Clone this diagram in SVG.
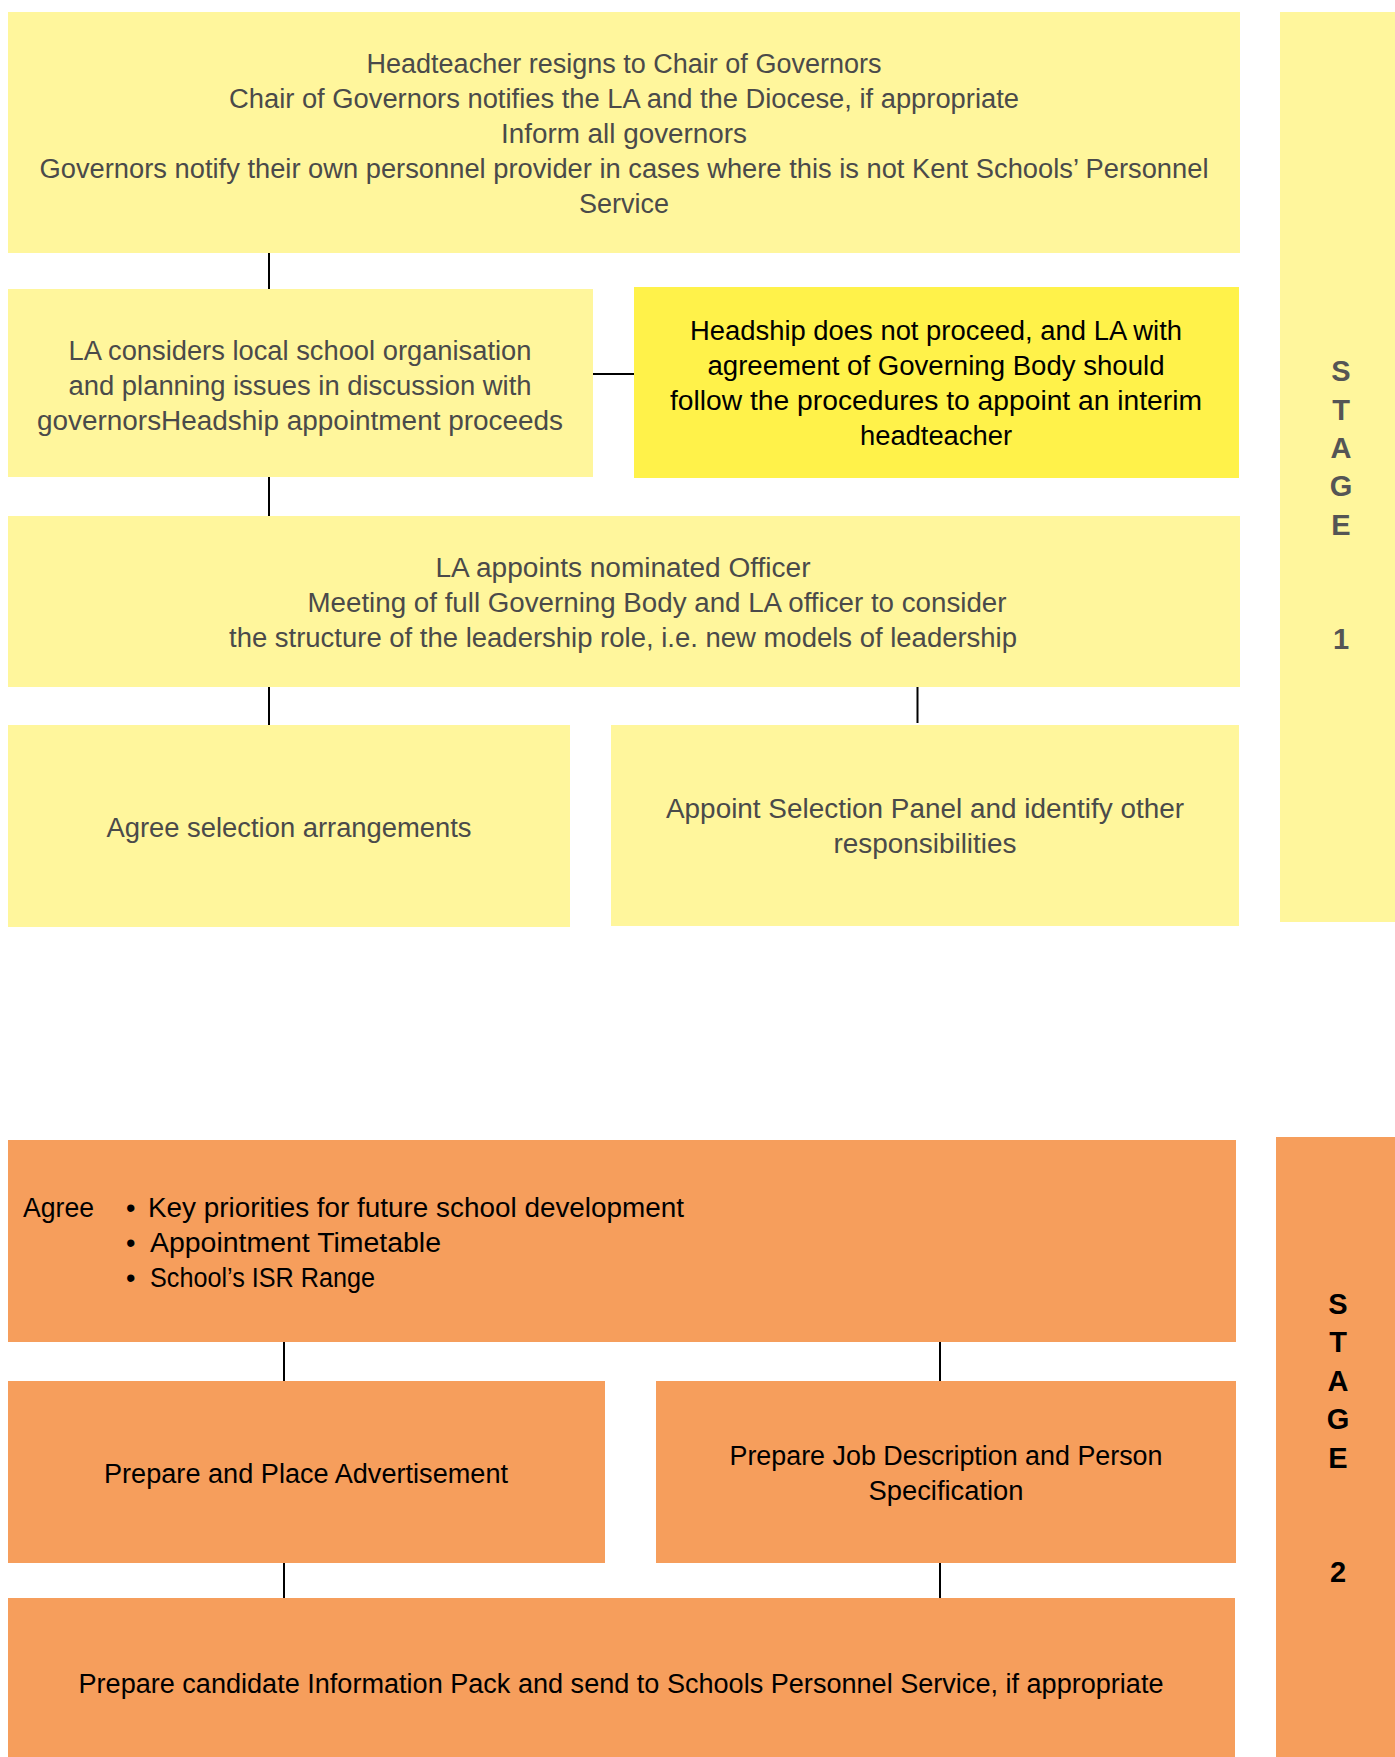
<svg xmlns="http://www.w3.org/2000/svg" width="1395" height="1757" viewBox="0 0 1395 1757">
<style>
.ly{fill:#FFF69C}
.by{fill:#FFF24A}
.or{fill:#F69E5C}
.t{font-family:"Liberation Sans",Arial,sans-serif;font-size:27px;text-anchor:middle}
.g{fill:#4A4A4A}
.k{fill:#000}
.st{font-family:"Liberation Sans",Arial,sans-serif;font-size:29px;font-weight:bold;text-anchor:middle}
.c{stroke:#000;stroke-width:2;fill:none}
</style>
<rect width="1395" height="1757" fill="#fff"/>
<g id="stage1">
<rect class="ly" x="1280" y="12" width="115" height="910"/>
<text class="st" fill="#555" x="1341"><tspan x="1341" y="381">S</tspan><tspan x="1341" y="420">T</tspan><tspan x="1341" y="458">A</tspan><tspan x="1341" y="496">G</tspan><tspan x="1341" y="535">E</tspan><tspan x="1341" y="649">1</tspan></text>
</g>
<g id="stage2">
<rect class="or" x="1276" y="1137" width="119" height="620"/>
<text class="st k" x="1338"><tspan x="1338" y="1314">S</tspan><tspan x="1338" y="1352">T</tspan><tspan x="1338" y="1391">A</tspan><tspan x="1338" y="1429">G</tspan><tspan x="1338" y="1468">E</tspan><tspan x="1338" y="1582">2</tspan></text>
</g>
<g id="connectors">
<line class="c" x1="269" y1="253" x2="269" y2="289"/>
<line class="c" x1="593" y1="374" x2="634" y2="374"/>
<line class="c" x1="269" y1="477" x2="269" y2="516"/>
<line class="c" x1="269" y1="687" x2="269" y2="725"/>
<line class="c" x1="917.5" y1="687" x2="917.5" y2="723"/>
<line class="c" x1="284" y1="1342" x2="284" y2="1381"/>
<line class="c" x1="940" y1="1342" x2="940" y2="1381"/>
<line class="c" x1="284" y1="1563" x2="284" y2="1598"/>
<line class="c" x1="940" y1="1563" x2="940" y2="1598"/>
</g>
<g id="n1">
<rect class="ly" x="8" y="12" width="1232" height="241"/>
<text class="t g"><tspan x="624" y="73" textLength="515" lengthAdjust="spacingAndGlyphs">Headteacher resigns to Chair of Governors</tspan><tspan x="624" y="108" textLength="790" lengthAdjust="spacingAndGlyphs">Chair of Governors notifies the LA and the Diocese, if appropriate</tspan><tspan x="624" y="143" textLength="246" lengthAdjust="spacingAndGlyphs">Inform all governors</tspan><tspan x="624" y="178" textLength="1169" lengthAdjust="spacingAndGlyphs">Governors notify their own personnel provider in cases where this is not Kent Schools’ Personnel</tspan><tspan x="624" y="213">Service</tspan></text>
</g>
<g id="n2">
<rect class="ly" x="8" y="289" width="585" height="188"/>
<text class="t g"><tspan x="300" y="360" textLength="463" lengthAdjust="spacingAndGlyphs">LA considers local school organisation</tspan><tspan x="300" y="395" textLength="463" lengthAdjust="spacingAndGlyphs">and planning issues in discussion with</tspan><tspan x="300" y="430" textLength="526" lengthAdjust="spacingAndGlyphs">governorsHeadship appointment proceeds</tspan></text>
</g>
<g id="n3">
<rect class="by" x="634" y="287" width="605" height="191"/>
<text class="t k"><tspan x="936" y="340" textLength="492" lengthAdjust="spacingAndGlyphs">Headship does not proceed, and LA with</tspan><tspan x="936" y="375" textLength="457" lengthAdjust="spacingAndGlyphs">agreement of Governing Body should</tspan><tspan x="936" y="410" textLength="532" lengthAdjust="spacingAndGlyphs">follow the procedures to appoint an interim</tspan><tspan x="936" y="445" textLength="152" lengthAdjust="spacingAndGlyphs">headteacher</tspan></text>
</g>
<g id="n4">
<rect class="ly" x="8" y="516" width="1232" height="171"/>
<text class="t g"><tspan x="623" y="577" textLength="375" lengthAdjust="spacingAndGlyphs">LA appoints nominated Officer</tspan><tspan x="657" y="612" textLength="699" lengthAdjust="spacingAndGlyphs">Meeting of full Governing Body and LA officer to consider</tspan><tspan x="623" y="647" textLength="788" lengthAdjust="spacingAndGlyphs">the structure of the leadership role, i.e. new models of leadership</tspan></text>
</g>
<g id="n5">
<rect class="ly" x="8" y="725" width="562" height="202"/>
<text class="t g" x="289" y="837" textLength="365" lengthAdjust="spacingAndGlyphs">Agree selection arrangements</text>
</g>
<g id="n6">
<rect class="ly" x="611" y="725" width="628" height="201"/>
<text class="t g"><tspan x="925" y="818" textLength="518" lengthAdjust="spacingAndGlyphs">Appoint Selection Panel and identify other</tspan><tspan x="925" y="853" textLength="183" lengthAdjust="spacingAndGlyphs">responsibilities</tspan></text>
</g>
<g id="n7">
<rect class="or" x="8" y="1140" width="1228" height="202"/>
<text class="t k" style="text-anchor:start"><tspan x="23" y="1217" textLength="71" lengthAdjust="spacingAndGlyphs">Agree</tspan><tspan x="126" y="1217">•</tspan><tspan x="148" y="1217" textLength="536" lengthAdjust="spacingAndGlyphs">Key priorities for future school development</tspan><tspan x="126" y="1252">•</tspan><tspan x="150" y="1252" textLength="291" lengthAdjust="spacingAndGlyphs">Appointment Timetable</tspan><tspan x="126" y="1287">•</tspan><tspan x="150" y="1287" textLength="225" lengthAdjust="spacingAndGlyphs">School’s ISR Range</tspan></text>
</g>
<g id="n8">
<rect class="or" x="8" y="1381" width="597" height="182"/>
<text class="t k" x="306" y="1483" textLength="404" lengthAdjust="spacingAndGlyphs">Prepare and Place Advertisement</text>
</g>
<g id="n9">
<rect class="or" x="656" y="1381" width="580" height="182"/>
<text class="t k"><tspan x="946" y="1465" textLength="433" lengthAdjust="spacingAndGlyphs">Prepare Job Description and Person</tspan><tspan x="946" y="1500" textLength="155" lengthAdjust="spacingAndGlyphs">Specification</tspan></text>
</g>
<g id="n10">
<rect class="or" x="8" y="1598" width="1227" height="159"/>
<text class="t k" x="621" y="1693" textLength="1085" lengthAdjust="spacingAndGlyphs">Prepare candidate Information Pack and send to Schools Personnel Service, if appropriate</text>
</g>
</svg>
